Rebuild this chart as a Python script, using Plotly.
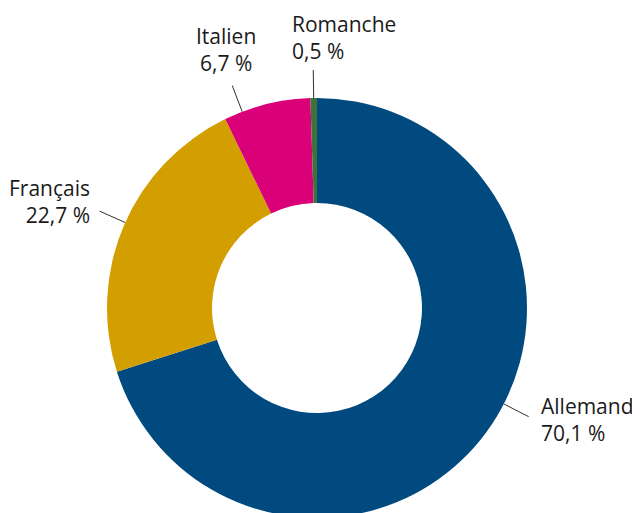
import math
import plotly.graph_objects as go

# ---- data ----
languages = ["Allemand", "Français", "Italien", "Romanche"]
shares = [70.1, 22.7, 6.7, 0.5]
value_labels = ["70,1 %", "22,7 %", "6,7 %", "0,5 %"]

# ---- style ----
colors = ["#004A80", "#D39E00", "#DA0078", "#3D7238"]
OFF = 8                     # default page body margin (figure is shifted by this)
W, H = 640, 530             # figure size; bottom of the donut runs off the window
FONT = "Open Sans"
FS = 21
TXT = "#1a1a1a"

# target donut geometry in window pixels
CX_S, CY_S, R = 317, 308, 210
cx, cy = CX_S - OFF, CY_S - OFF          # figure pixels
dom_x = [(cx - R) / W, (cx + R) / W]
dom_y = [1 - (cy + R) / H, 1 - (cy - R) / H]

fig = go.Figure(go.Pie(
    labels=languages,
    values=shares,
    hole=0.5,
    sort=False,
    direction="clockwise",
    rotation=0,
    marker=dict(colors=colors, line=dict(width=0)),
    textinfo="none",
    hoverinfo="label+percent",
    domain=dict(x=dom_x, y=dom_y),
    showlegend=False,
))

# label placement (angle nudges and text offsets relative to leader end)
nudge = {"Allemand": -9, "Français": 0.8, "Italien": -7, "Romanche": 0}
# (anchor, dx, baseline of line 1, baseline of line 2) relative to leader end
text_pos = {
    "Allemand": ("left", 11, -4, 26),
    "Français": ("right", -9, -16, 14),
    "Italien": ("center", -6, -41, -14),
    "Romanche": ("left", -22, -37, -11),
}
LINE_LEN = 28


def px2paper(x, y):
    return x / W, 1 - y / H


total = sum(shares)
cum = 0.0
shapes = []
annotations = []
for name, val, vlab in zip(languages, shares, value_labels):
    mid = (cum + val / 2) / total * 360 + nudge[name]
    cum += val
    a = math.radians(mid)
    dx, dy = math.sin(a), -math.cos(a)
    x0, y0 = cx + R * dx, cy + R * dy
    x1, y1 = cx + (R + LINE_LEN) * dx, cy + (R + LINE_LEN) * dy
    p0 = px2paper(x0, y0)
    p1 = px2paper(x1, y1)
    shapes.append(dict(type="line", xref="paper", yref="paper",
                       x0=p0[0], y0=p0[1], x1=p1[0], y1=p1[1],
                       line=dict(color="#333333", width=1)))
    anchor, tdx, b1, b2 = text_pos[name]
    tx, ty = px2paper(x1 + tdx, y1 + (b1 + b2) / 2 - 0.39 * FS)
    annotations.append(dict(
        x=tx, y=ty, xref="paper", yref="paper", text=f"{name}<br>{vlab}",
        showarrow=False, xanchor=anchor, yanchor="middle", align=anchor,
        borderpad=0, font=dict(family=FONT, size=FS, color=TXT)))

fig.update_layout(
    width=W, height=H,
    margin=dict(l=0, r=0, t=0, b=0),
    paper_bgcolor="white",
    plot_bgcolor="white",
    shapes=shapes,
    annotations=annotations,
)

fig.write_html("out.html")
